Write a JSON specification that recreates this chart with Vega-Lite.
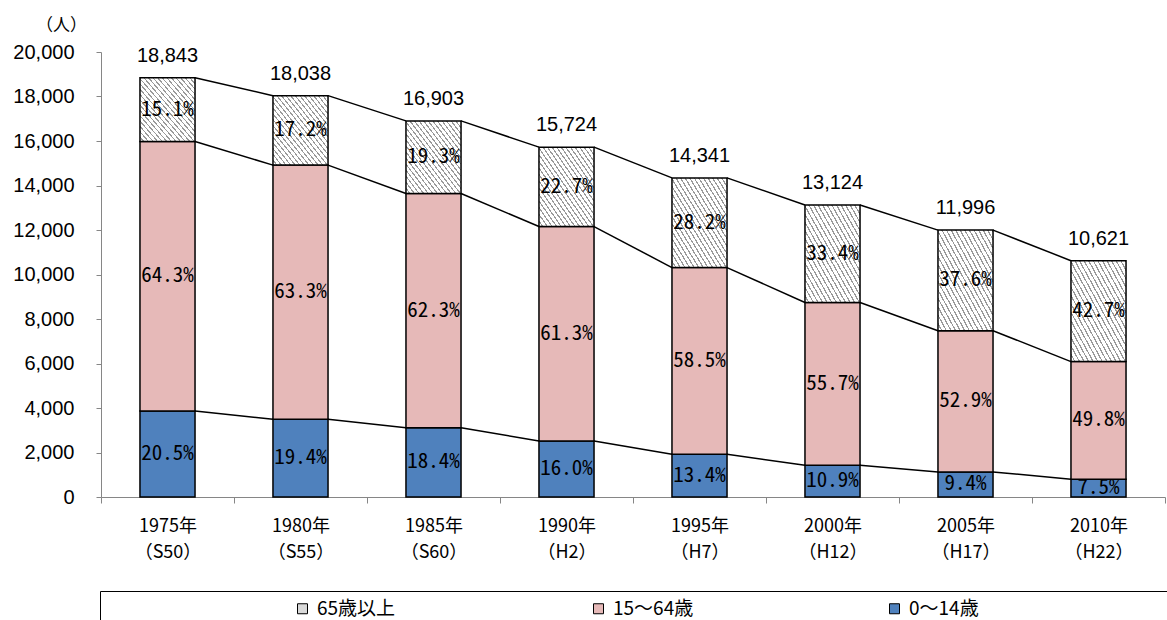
{
  "$schema": "https://vega.github.io/schema/vega-lite/v6.json",
  "width": 1064,
  "height": 445,
  "autosize": {"type": "none"},
  "padding": {"left": 101, "top": 52, "right": 2, "bottom": 123},
  "background": "white",
  "data": {
    "values": [
      {"year": "1975年|（S50）", "age": "0～14歳", "value": 3863, "pct": "20.5%"},
      {"year": "1975年|（S50）", "age": "15～64歳", "value": 12116, "pct": "64.3%"},
      {"year": "1975年|（S50）", "age": "65歳以上", "value": 2864, "pct": "15.1%"},
      {"year": "1980年|（S55）", "age": "0～14歳", "value": 3499, "pct": "19.4%"},
      {"year": "1980年|（S55）", "age": "15～64歳", "value": 11418, "pct": "63.3%"},
      {"year": "1980年|（S55）", "age": "65歳以上", "value": 3121, "pct": "17.2%"},
      {"year": "1985年|（S60）", "age": "0～14歳", "value": 3110, "pct": "18.4%"},
      {"year": "1985年|（S60）", "age": "15～64歳", "value": 10531, "pct": "62.3%"},
      {"year": "1985年|（S60）", "age": "65歳以上", "value": 3262, "pct": "19.3%"},
      {"year": "1990年|（H2）", "age": "0～14歳", "value": 2516, "pct": "16.0%"},
      {"year": "1990年|（H2）", "age": "15～64歳", "value": 9639, "pct": "61.3%"},
      {"year": "1990年|（H2）", "age": "65歳以上", "value": 3569, "pct": "22.7%"},
      {"year": "1995年|（H7）", "age": "0～14歳", "value": 1922, "pct": "13.4%"},
      {"year": "1995年|（H7）", "age": "15～64歳", "value": 8389, "pct": "58.5%"},
      {"year": "1995年|（H7）", "age": "65歳以上", "value": 4030, "pct": "28.2%"},
      {"year": "2000年|（H12）", "age": "0～14歳", "value": 1431, "pct": "10.9%"},
      {"year": "2000年|（H12）", "age": "15～64歳", "value": 7310, "pct": "55.7%"},
      {"year": "2000年|（H12）", "age": "65歳以上", "value": 4383, "pct": "33.4%"},
      {"year": "2005年|（H17）", "age": "0～14歳", "value": 1128, "pct": "9.4%"},
      {"year": "2005年|（H17）", "age": "15～64歳", "value": 6346, "pct": "52.9%"},
      {"year": "2005年|（H17）", "age": "65歳以上", "value": 4522, "pct": "37.6%"},
      {"year": "2010年|（H22）", "age": "0～14歳", "value": 797, "pct": "7.5%"},
      {"year": "2010年|（H22）", "age": "15～64歳", "value": 5289, "pct": "49.8%"},
      {"year": "2010年|（H22）", "age": "65歳以上", "value": 4535, "pct": "42.7%"}
    ]
  },
  "layer": [
    {
      "transform": [
        {"stack": "value", "groupby": ["year"], "sort": [{"field": "age", "order": "ascending"}], "as": ["s0", "s1"]}
      ],
      "mark": {"type": "bar", "width": {"band": 0.414}, "stroke": "black", "strokeWidth": 1.5},
      "encoding": {
        "x": {"field": "year", "type": "nominal", "title": null, "scale": {"paddingInner": 0, "paddingOuter": 0}},
        "y": {"field": "s1", "type": "quantitative", "title": "（人）", "scale": {"domain": [0, 20000], "nice": false}},
        "y2": {"field": "s0"},
        "color": {
          "field": "age",
          "type": "nominal",
          "scale": {"domain": ["65歳以上", "15～64歳", "0～14歳"], "range": ["#d9d9d9", "#e6b9b8", "#4f81bd"]},
          "legend": {
            "orient": "none",
            "legendX": -1,
            "legendY": 539,
            "direction": "horizontal",
            "columns": 3,
            "title": " ",
            "titleOrient": "right",
            "titlePadding": 190,
            "titleFontSize": 8,
            "strokeColor": "black",
            "padding": 8,
            "symbolType": "square",
            "symbolSize": 100,
            "symbolStrokeColor": "black",
            "symbolStrokeWidth": 1,
            "labelFont": "Noto Sans CJK JP",
            "labelFontSize": 19,
            "labelColor": "black",
            "symbolOffset": 185,
            "labelOffset": 5,
            "columnPadding": 6,
            "gridAlign": "all"
          },
          "condition": {
            "test": "datum.age === '65歳以上'",
            "value": {
              "gradient": "linear", "x1": 0, "y1": 1, "x2": 1, "y2": 0,
              "stops": [
                {"offset": 0, "color": "#fff"}, {"offset": 0.0292, "color": "#fff"}, {"offset": 0.0292, "color": "#9a9a9a"}, {"offset": 0.0417, "color": "#9a9a9a"},
                {"offset": 0.0417, "color": "#fff"}, {"offset": 0.0708, "color": "#fff"}, {"offset": 0.0708, "color": "#9a9a9a"}, {"offset": 0.0833, "color": "#9a9a9a"},
                {"offset": 0.0833, "color": "#fff"}, {"offset": 0.1125, "color": "#fff"}, {"offset": 0.1125, "color": "#9a9a9a"}, {"offset": 0.125, "color": "#9a9a9a"},
                {"offset": 0.125, "color": "#fff"}, {"offset": 0.1542, "color": "#fff"}, {"offset": 0.1542, "color": "#9a9a9a"}, {"offset": 0.1667, "color": "#9a9a9a"},
                {"offset": 0.1667, "color": "#fff"}, {"offset": 0.1958, "color": "#fff"}, {"offset": 0.1958, "color": "#9a9a9a"}, {"offset": 0.2083, "color": "#9a9a9a"},
                {"offset": 0.2083, "color": "#fff"}, {"offset": 0.2375, "color": "#fff"}, {"offset": 0.2375, "color": "#9a9a9a"}, {"offset": 0.25, "color": "#9a9a9a"},
                {"offset": 0.25, "color": "#fff"}, {"offset": 0.2792, "color": "#fff"}, {"offset": 0.2792, "color": "#9a9a9a"}, {"offset": 0.2917, "color": "#9a9a9a"},
                {"offset": 0.2917, "color": "#fff"}, {"offset": 0.3208, "color": "#fff"}, {"offset": 0.3208, "color": "#9a9a9a"}, {"offset": 0.3333, "color": "#9a9a9a"},
                {"offset": 0.3333, "color": "#fff"}, {"offset": 0.3625, "color": "#fff"}, {"offset": 0.3625, "color": "#9a9a9a"}, {"offset": 0.375, "color": "#9a9a9a"},
                {"offset": 0.375, "color": "#fff"}, {"offset": 0.4042, "color": "#fff"}, {"offset": 0.4042, "color": "#9a9a9a"}, {"offset": 0.4167, "color": "#9a9a9a"},
                {"offset": 0.4167, "color": "#fff"}, {"offset": 0.4458, "color": "#fff"}, {"offset": 0.4458, "color": "#9a9a9a"}, {"offset": 0.4583, "color": "#9a9a9a"},
                {"offset": 0.4583, "color": "#fff"}, {"offset": 0.4875, "color": "#fff"}, {"offset": 0.4875, "color": "#9a9a9a"}, {"offset": 0.5, "color": "#9a9a9a"},
                {"offset": 0.5, "color": "#fff"}, {"offset": 0.5292, "color": "#fff"}, {"offset": 0.5292, "color": "#9a9a9a"}, {"offset": 0.5417, "color": "#9a9a9a"},
                {"offset": 0.5417, "color": "#fff"}, {"offset": 0.5708, "color": "#fff"}, {"offset": 0.5708, "color": "#9a9a9a"}, {"offset": 0.5833, "color": "#9a9a9a"},
                {"offset": 0.5833, "color": "#fff"}, {"offset": 0.6125, "color": "#fff"}, {"offset": 0.6125, "color": "#9a9a9a"}, {"offset": 0.625, "color": "#9a9a9a"},
                {"offset": 0.625, "color": "#fff"}, {"offset": 0.6542, "color": "#fff"}, {"offset": 0.6542, "color": "#9a9a9a"}, {"offset": 0.6667, "color": "#9a9a9a"},
                {"offset": 0.6667, "color": "#fff"}, {"offset": 0.6958, "color": "#fff"}, {"offset": 0.6958, "color": "#9a9a9a"}, {"offset": 0.7083, "color": "#9a9a9a"},
                {"offset": 0.7083, "color": "#fff"}, {"offset": 0.7375, "color": "#fff"}, {"offset": 0.7375, "color": "#9a9a9a"}, {"offset": 0.75, "color": "#9a9a9a"},
                {"offset": 0.75, "color": "#fff"}, {"offset": 0.7792, "color": "#fff"}, {"offset": 0.7792, "color": "#9a9a9a"}, {"offset": 0.7917, "color": "#9a9a9a"},
                {"offset": 0.7917, "color": "#fff"}, {"offset": 0.8208, "color": "#fff"}, {"offset": 0.8208, "color": "#9a9a9a"}, {"offset": 0.8333, "color": "#9a9a9a"},
                {"offset": 0.8333, "color": "#fff"}, {"offset": 0.8625, "color": "#fff"}, {"offset": 0.8625, "color": "#9a9a9a"}, {"offset": 0.875, "color": "#9a9a9a"},
                {"offset": 0.875, "color": "#fff"}, {"offset": 0.9042, "color": "#fff"}, {"offset": 0.9042, "color": "#9a9a9a"}, {"offset": 0.9167, "color": "#9a9a9a"},
                {"offset": 0.9167, "color": "#fff"}, {"offset": 0.9458, "color": "#fff"}, {"offset": 0.9458, "color": "#9a9a9a"}, {"offset": 0.9583, "color": "#9a9a9a"},
                {"offset": 0.9583, "color": "#fff"}, {"offset": 0.9875, "color": "#fff"}, {"offset": 0.9875, "color": "#9a9a9a"}, {"offset": 1, "color": "#9a9a9a"}
              ]
            }
          }
        }
      }
    },
    {
      "transform": [
        {"stack": "value", "groupby": ["year"], "sort": [{"field": "age", "order": "ascending"}], "as": ["s0", "s1"]},
        {"fold": ["s0", "s1"], "as": ["edge", "pos"]}
      ],
      "mark": {"type": "text", "font": "Noto Sans Mono CJK JP, Noto Sans CJK JP", "fontSize": 21, "color": "black", "align": "center", "baseline": "middle"},
      "encoding": {
        "x": {"field": "year", "type": "nominal", "title": null},
        "y": {"aggregate": "mean", "field": "pos", "type": "quantitative", "title": "（人）"},
        "detail": {"field": "age", "type": "nominal"},
        "text": {"field": "pct", "type": "nominal"}
      }
    },
    {
      "mark": {"type": "text", "font": "Liberation Sans", "fontSize": 20, "color": "black", "align": "center", "baseline": "alphabetic", "dy": -16},
      "encoding": {
        "x": {"field": "year", "type": "nominal", "title": null},
        "y": {"aggregate": "sum", "field": "value", "type": "quantitative", "title": "（人）"},
        "text": {"aggregate": "sum", "field": "value", "type": "quantitative", "format": ","}
      }
    },
    {
      "data": {
        "values": [
          {"year": "1975年|（S50）", "next": "1980年|（S55）", "v0": 3863, "v1": 3499},
          {"year": "1980年|（S55）", "next": "1985年|（S60）", "v0": 3499, "v1": 3110},
          {"year": "1985年|（S60）", "next": "1990年|（H2）", "v0": 3110, "v1": 2516},
          {"year": "1990年|（H2）", "next": "1995年|（H7）", "v0": 2516, "v1": 1922},
          {"year": "1995年|（H7）", "next": "2000年|（H12）", "v0": 1922, "v1": 1431},
          {"year": "2000年|（H12）", "next": "2005年|（H17）", "v0": 1431, "v1": 1128},
          {"year": "2005年|（H17）", "next": "2010年|（H22）", "v0": 1128, "v1": 797},
          {"year": "1975年|（S50）", "next": "1980年|（S55）", "v0": 15979, "v1": 14917},
          {"year": "1980年|（S55）", "next": "1985年|（S60）", "v0": 14917, "v1": 13641},
          {"year": "1985年|（S60）", "next": "1990年|（H2）", "v0": 13641, "v1": 12155},
          {"year": "1990年|（H2）", "next": "1995年|（H7）", "v0": 12155, "v1": 10311},
          {"year": "1995年|（H7）", "next": "2000年|（H12）", "v0": 10311, "v1": 8741},
          {"year": "2000年|（H12）", "next": "2005年|（H17）", "v0": 8741, "v1": 7474},
          {"year": "2005年|（H17）", "next": "2010年|（H22）", "v0": 7474, "v1": 6086},
          {"year": "1975年|（S50）", "next": "1980年|（S55）", "v0": 18843, "v1": 18038},
          {"year": "1980年|（S55）", "next": "1985年|（S60）", "v0": 18038, "v1": 16903},
          {"year": "1985年|（S60）", "next": "1990年|（H2）", "v0": 16903, "v1": 15724},
          {"year": "1990年|（H2）", "next": "1995年|（H7）", "v0": 15724, "v1": 14341},
          {"year": "1995年|（H7）", "next": "2000年|（H12）", "v0": 14341, "v1": 13124},
          {"year": "2000年|（H12）", "next": "2005年|（H17）", "v0": 13124, "v1": 11996},
          {"year": "2005年|（H17）", "next": "2010年|（H22）", "v0": 11996, "v1": 10621}
        ]
      },
      "mark": {"type": "rule", "color": "black", "strokeWidth": 1.5},
      "encoding": {
        "x": {"field": "year", "type": "nominal", "title": null, "bandPosition": 0.707},
        "x2": {"field": "next", "bandPosition": 0.293},
        "y": {"field": "v0", "type": "quantitative", "title": "（人）"},
        "y2": {"field": "v1"}
      }
    }
  ],
  "config": {
    "view": {"stroke": null},
    "axisY": {
      "domainColor": "#868686", "tickColor": "#868686", "tickSize": 5, "grid": false, "format": ",.0f", "tickCount": 10,
      "labelFont": "Liberation Sans", "labelFontSize": 20, "labelColor": "black", "labelPadding": 22,
      "titleAngle": 0, "titleX": -40, "titleY": -27, "titleAlign": "center", "titleBaseline": "middle",
      "titleFont": "Noto Sans CJK JP", "titleFontSize": 17, "titleFontWeight": "normal", "titleColor": "black"
    },
    "axisX": {
      "domainColor": "#868686", "tickColor": "#868686", "tickSize": 6, "tickBand": "extent", "grid": false,
      "labelFont": "Noto Sans CJK JP", "labelFontSize": 18, "labelColor": "black", "labelAngle": 0,
      "labelLineHeight": 26, "labelPadding": 14, "labelExpr": "split(datum.label, '|')"
    }
  }
}
